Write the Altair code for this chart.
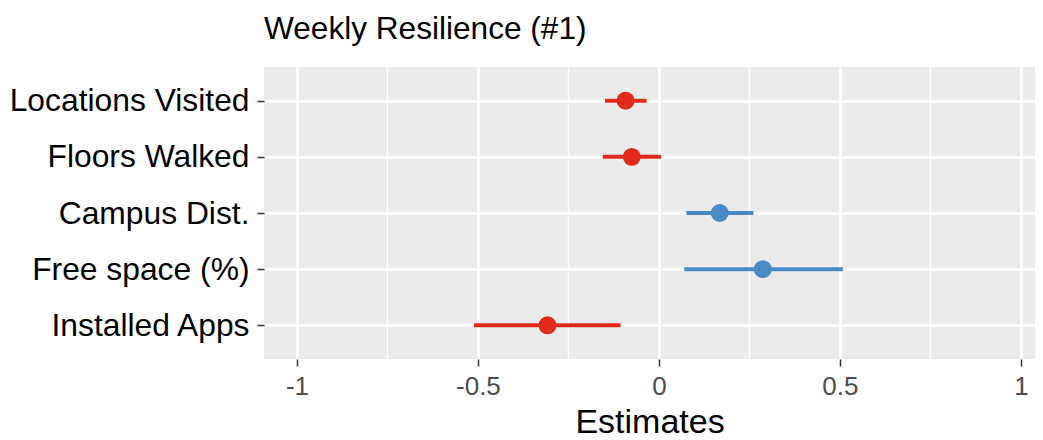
import altair as alt
import pandas as pd

terms = ["Locations Visited", "Floors Walked", "Campus Dist.", "Free space (%)", "Installed Apps"]
estimates = [-0.092, -0.075, 0.168, 0.287, -0.308]
ci_low = [-0.149, -0.155, 0.076, 0.070, -0.511]
ci_high = [-0.034, 0.006, 0.261, 0.508, -0.106]
major_ticks = [-1, -0.5, 0, 0.5, 1]
minor_ticks = [-0.75, -0.25, 0.25, 0.75]

df = pd.DataFrame({
    "term": terms,
    "estimate": estimates,
    "low": ci_low,
    "high": ci_high,
})
df["sign"] = ["pos" if v > 0 else "neg" for v in estimates]
minor_df = pd.DataFrame({"v": minor_ticks})

FONT = "Liberation Sans"
xscale = alt.Scale(domain=[-1.091, 1.039], nice=False, zero=False)
yscale = alt.Scale(type="point", padding=0.6, domain=terms)
cscale = alt.Scale(domain=["neg", "pos"], range=["#E2291C", "#4A8AC4"])

xaxis = alt.Axis(
    values=major_ticks, labelExpr="'' + datum.value", title="Estimates",
    grid=True, gridColor="white", gridWidth=2.8, domain=False,
    tickColor="#333333", tickWidth=1.5, tickSize=7,
    labelFont=FONT, labelFontSize=26, labelColor="#4D4D4D", labelPadding=7,
    titleFont=FONT, titleFontSize=34, titleFontWeight="normal", titleColor="black",
    titlePadding=6,
)
yaxis = alt.Axis(
    title=None, grid=True, gridColor="white", gridWidth=2.8, domain=False,
    tickColor="#333333", tickWidth=1.5, tickSize=7, labelLimit=400,
    labelFont=FONT, labelFontSize=31.8, labelColor="black", labelPadding=8,
)

minor = alt.Chart(minor_df).mark_rule(color="white", strokeWidth=1.4).encode(
    x=alt.X("v:Q", scale=xscale, axis=xaxis)
)

ci = alt.Chart(df).mark_rule(strokeWidth=4).encode(
    x=alt.X("low:Q", scale=xscale, axis=xaxis),
    x2="high:Q",
    y=alt.Y("term:N", scale=yscale, axis=yaxis, sort=terms),
    color=alt.Color("sign:N", scale=cscale, legend=None),
)

pts = alt.Chart(df).mark_circle(size=320, opacity=1).encode(
    x=alt.X("estimate:Q", scale=xscale, axis=xaxis),
    y=alt.Y("term:N", scale=yscale, axis=yaxis, sort=terms),
    color=alt.Color("sign:N", scale=cscale, legend=None),
)

chart = alt.layer(minor, ci, pts).properties(
    width=771, height=292,
    title=alt.TitleParams(
        "Weekly Resilience (#1)", anchor="start", frame="group",
        font=FONT, fontSize=31.6, fontWeight="normal", color="black", offset=21,
    ),
    autosize=alt.AutoSizeParams(type="none"),
    padding={"left": 256, "top": 59, "right": 0, "bottom": 81},
    background="white",
).configure_view(fill="#EBEBEB", stroke=None)

chart.save("out.html", embed_options={"renderer": "svg", "actions": False})
